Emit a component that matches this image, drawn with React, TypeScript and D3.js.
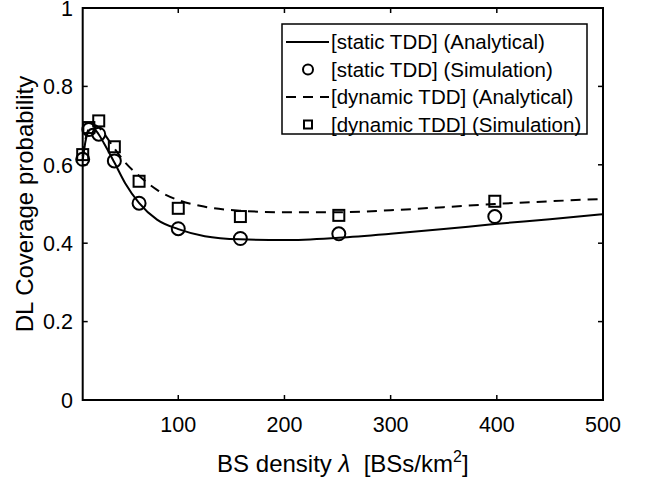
import React, { useEffect, useRef } from 'react';
import * as d3 from 'd3';

// simulation densities (log spaced)
const simX = [10, 15.8, 25.1, 39.8, 63.1, 100, 158.5, 251.2, 398.1];
const staticSim = [0.614, 0.69, 0.678, 0.61, 0.502, 0.437, 0.412, 0.424, 0.468];
const dynamicSim = [0.626, 0.695, 0.712, 0.646, 0.558, 0.489, 0.468, 0.471, 0.507];

// analytical curves
const anaX = [10, 13, 17, 20, 25, 30, 40, 50, 63, 80, 100, 125, 158, 200, 251, 300, 350, 398, 450, 500];
const staticAna = [0.612, 0.665, 0.69, 0.692, 0.678, 0.655, 0.605, 0.553, 0.503, 0.46, 0.436, 0.418, 0.41, 0.408, 0.414, 0.424, 0.436, 0.449, 0.461, 0.474];
const dynamicAna = [0.622, 0.67, 0.697, 0.702, 0.696, 0.68, 0.641, 0.606, 0.572, 0.536, 0.51, 0.493, 0.483, 0.479, 0.479, 0.484, 0.492, 0.5, 0.507, 0.513];

const xTicks = [100, 200, 300, 400, 500];
const yTicks = [0, 0.2, 0.4, 0.6, 0.8, 1];
const legendLabels = [
  '[static TDD] (Analytical)',
  '[static TDD] (Simulation)',
  '[dynamic TDD] (Analytical)',
  '[dynamic TDD] (Simulation)',
];

export default function App() {
  const ref = useRef<SVGSVGElement>(null);

  useEffect(() => {
    const svg = d3.select(ref.current);
    svg.selectAll('*').remove();
    const font = '"Liberation Sans", Arial, sans-serif';
    const left = 82.7, right = 603, top = 8, bottom = 400;

    const x = d3.scaleLinear().domain([10, 500]).range([left, right]);
    const y = d3.scaleLinear().domain([0, 1]).range([bottom, top]);

    svg.append('rect').attr('width', 645).attr('height', 480).attr('fill', '#fff');

    // curves
    const line = d3.line<number>()
      .x((d, i) => x(anaX[i]))
      .y(d => y(d))
      .curve(d3.curveMonotoneX);
    svg.append('path').datum(staticAna)
      .attr('d', line).attr('fill', 'none').attr('stroke', '#000').attr('stroke-width', 2);
    svg.append('path').datum(dynamicAna)
      .attr('d', line).attr('fill', 'none').attr('stroke', '#000').attr('stroke-width', 2)
      .attr('stroke-dasharray', '10,7');

    // markers
    svg.append('g').selectAll('circle').data(staticSim).join('circle')
      .attr('cx', (d, i) => x(simX[i])).attr('cy', d => y(d)).attr('r', 6.5)
      .attr('fill', 'none').attr('stroke', '#000').attr('stroke-width', 2);
    const s = 11;
    svg.append('g').selectAll('rect').data(dynamicSim).join('rect')
      .attr('x', (d, i) => x(simX[i]) - s / 2).attr('y', d => y(d) - s / 2)
      .attr('width', s).attr('height', s)
      .attr('fill', 'none').attr('stroke', '#000').attr('stroke-width', 2);

    // axes box
    svg.append('rect').attr('x', left).attr('y', top)
      .attr('width', right - left).attr('height', bottom - top)
      .attr('fill', 'none').attr('stroke', '#000').attr('stroke-width', 2);

    const tl = 5;
    const ticks = svg.append('g').attr('stroke', '#000').attr('stroke-width', 1.5);
    xTicks.forEach(t => {
      ticks.append('line').attr('x1', x(t)).attr('x2', x(t)).attr('y1', bottom).attr('y2', bottom - tl);
      ticks.append('line').attr('x1', x(t)).attr('x2', x(t)).attr('y1', top).attr('y2', top + tl);
    });
    yTicks.forEach(t => {
      ticks.append('line').attr('x1', left).attr('x2', left + tl).attr('y1', y(t)).attr('y2', y(t));
      ticks.append('line').attr('x1', right).attr('x2', right - tl).attr('y1', y(t)).attr('y2', y(t));
    });

    svg.append('g').selectAll('text').data(xTicks).join('text')
      .attr('x', d => x(d)).attr('y', 432)
      .attr('text-anchor', 'middle')
      .style('font-family', font).style('font-size', '21.5px')
      .text(d => d);
    svg.append('g').selectAll('text').data(yTicks).join('text')
      .attr('x', 73).attr('y', d => y(d)).attr('dy', '0.36em')
      .attr('text-anchor', 'end')
      .style('font-family', font).style('font-size', '21.5px')
      .text(d => d3.format('~g')(d));

    // axis labels
    const xl = svg.append('text')
      .attr('x', (left + right) / 2).attr('y', 472)
      .attr('text-anchor', 'middle')
      .style('white-space', 'pre')
      .style('font-family', font).style('font-size', '24px');
    xl.append('tspan').text('BS density ');
    xl.append('tspan').style('font-style', 'italic').text('λ');
    xl.append('tspan').text('  [BSs/km');
    xl.append('tspan').attr('dy', -10).style('font-size', '16px').text('2');
    xl.append('tspan').attr('dy', 10).text(']');

    svg.append('text')
      .attr('transform', `translate(33,${(top + bottom) / 2}) rotate(-90)`)
      .attr('text-anchor', 'middle')
      .style('font-family', font).style('font-size', '24px')
      .text('DL Coverage probability');

    // legend
    const lg = svg.append('g');
    lg.append('rect').attr('x', 282).attr('y', 24).attr('width', 305).attr('height', 110)
      .attr('fill', '#fff').attr('stroke', '#000').attr('stroke-width', 1.5);
    legendLabels.forEach((lab, i) => {
      const cy = 42 + i * 27.5;
      if (i === 0 || i === 2) {
        const l = lg.append('line').attr('x1', 286).attr('x2', 329).attr('y1', cy).attr('y2', cy)
          .attr('stroke', '#000').attr('stroke-width', 2);
        if (i === 2) l.attr('stroke-dasharray', '10,7');
      } else if (i === 1) {
        lg.append('circle').attr('cx', 308).attr('cy', cy).attr('r', 5)
          .attr('fill', 'none').attr('stroke', '#000').attr('stroke-width', 2);
      } else {
        lg.append('rect').attr('x', 304).attr('y', cy - 4).attr('width', 8).attr('height', 8)
          .attr('fill', 'none').attr('stroke', '#000').attr('stroke-width', 2);
      }
      lg.append('text').attr('x', 331).attr('y', cy).attr('dy', '0.36em')
        .style('font-family', font).style('font-size', '20.5px')
        .text(lab);
    });
  }, []);

  return (
    <svg ref={ref} width={645} height={480}
      style={{ position: 'absolute', left: 0, top: 0 }} />
  );
}
